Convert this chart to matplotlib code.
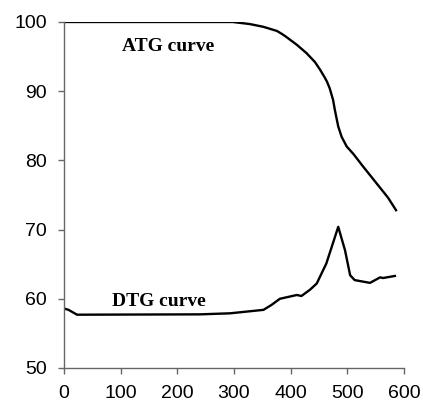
import matplotlib

matplotlib.use("Agg")
import matplotlib.pyplot as plt

# thermogravimetric curves
atg_x = [0, 150, 298, 328, 352, 376, 386, 393, 411, 428, 443, 452, 460, 464, 469, 475, 478, 481,
         484, 490, 499, 511, 528, 572, 586]
atg_y = [100, 100, 100, 99.7, 99.3, 98.7, 98.2, 97.8, 96.7, 95.5, 94.2, 93.1, 92.0, 91.4, 90.4,
         88.7, 87.3, 86.1, 84.9, 83.4, 82.0, 80.9, 79.1, 74.6, 72.8]

dtg_x = [0, 8, 23, 240, 293, 352, 366, 381, 411, 419, 434, 446, 463, 484, 496, 505, 513, 540, 558, 563, 584]
dtg_y = [58.6, 58.4, 57.7, 57.75, 57.9, 58.4, 59.1, 60.0, 60.55, 60.4, 61.3, 62.2, 65.1, 70.4, 67.0, 63.4, 62.7, 62.3, 63.1, 63.0, 63.3]

x_ticks = [0, 100, 200, 300, 400, 500, 600]
y_ticks = [50, 60, 70, 80, 90, 100]

AXIS_GRAY = "#666666"

fig = plt.figure(figsize=(4.23, 4.05), dpi=100)
ax = fig.add_axes([0.1513, 0.0914, 0.8037, 0.8543])

ax.plot(atg_x, atg_y, color="black", linewidth=1.7)
ax.plot(dtg_x, dtg_y, color="black", linewidth=1.7)

ax.text(183, 95.8, "ATG curve", family="Liberation Serif", fontweight="bold",
        fontsize=14, ha="center", va="baseline")
ax.text(168, 58.9, "DTG curve", family="Liberation Serif", fontweight="bold",
        fontsize=14, ha="center", va="baseline")

ax.set_xlim(0, 600)
ax.set_ylim(50, 100)
ax.set_xticks(x_ticks)
ax.set_yticks(y_ticks)

for side in ("top", "right"):
    ax.spines[side].set_visible(False)
for side in ("left", "bottom"):
    ax.spines[side].set_color(AXIS_GRAY)
    ax.spines[side].set_linewidth(1.0)

ax.tick_params(direction="out", length=4.5, width=1.0, color=AXIS_GRAY,
               labelsize=14, pad=8)
for lab in ax.get_xticklabels() + ax.get_yticklabels():
    lab.set_family("Liberation Sans")

fig.savefig("out.png", dpi=100, facecolor="white")
